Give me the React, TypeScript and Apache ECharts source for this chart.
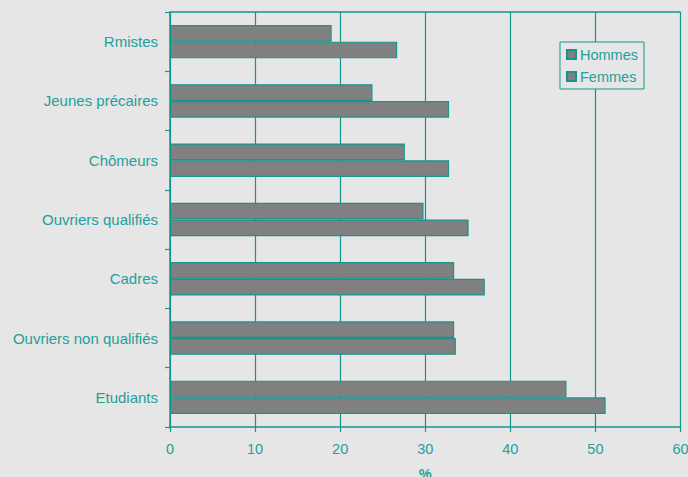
import React, { useEffect, useRef } from "react";
import * as echarts from "echarts";

// Categories listed from top to bottom
const categories = [
  "Rmistes",
  "Jeunes précaires",
  "Chômeurs",
  "Ouvriers qualifiés",
  "Cadres",
  "Ouvriers non qualifiés",
  "Etudiants",
];

const hommes = [19.0, 23.8, 27.6, 29.8, 33.4, 33.4, 46.6];
const femmes = [26.7, 32.8, 32.8, 35.1, 37.0, 33.6, 51.2];

const xTicks = [0, 10, 20, 30, 40, 50, 60];
const xName = "%";

const TEAL = "#16958f";
const TEXT = "#24a09a";
const BAR = "#808080";
const BG = "#e6e6e6";
const FONT = "'Liberation Sans', Arial, sans-serif";

export default function App() {
  const ref = useRef<HTMLDivElement>(null);

  useEffect(() => {
    document.body.style.margin = "0";
    document.body.style.background = BG;
    const chart = echarts.init(ref.current!, null, { renderer: "svg" });
    const barStyle = { color: BAR, borderColor: TEAL, borderWidth: 1.2 };
    chart.setOption({
      animation: false,
      backgroundColor: BG,
      textStyle: { fontFamily: FONT },
      grid: {
        left: 170,
        right: 7.5,
        top: 12,
        bottom: 50,
        containLabel: false,
        outerBoundsMode: "none",
      },
      legend: {
        orient: "vertical",
        left: 560,
        top: 42,
        width: 83,
        height: 43,
        padding: [5, 6, 5, 6],
        itemGap: 7,
        itemWidth: 9,
        itemHeight: 9,
        icon: "rect",
        borderColor: TEAL,
        borderWidth: 1,
        backgroundColor: BG,
        textStyle: { color: TEXT, fontSize: 14.5, fontFamily: FONT, padding: [0, 0, 0, -1] },
        data: ["Hommes", "Femmes"],
      },
      xAxis: {
        type: "value",
        min: xTicks[0],
        max: xTicks[xTicks.length - 1],
        interval: 10,
        name: xName,
        nameLocation: "middle",
        nameGap: 39,
        nameTextStyle: { color: TEXT, fontSize: 14.5, fontWeight: "bold", fontFamily: FONT },
        axisLine: { show: true, lineStyle: { color: TEAL, width: 1.5 } },
        axisTick: { show: true, length: 5, lineStyle: { color: TEAL, width: 1.2 } },
        axisLabel: { color: TEXT, fontSize: 14.5, margin: 14, fontFamily: FONT },
        splitLine: { show: true, lineStyle: { color: TEAL, width: 1.2 } },
      },
      yAxis: {
        type: "category",
        inverse: true,
        data: categories,
        axisLine: { show: true, lineStyle: { color: TEAL, width: 1.5 } },
        axisTick: { show: true, length: 5, lineStyle: { color: TEAL, width: 1.2 } },
        axisLabel: { color: TEXT, fontSize: 15, margin: 12, fontFamily: FONT },
        splitLine: { show: false },
      },
      series: [
        {
          name: "Hommes",
          type: "bar",
          data: hommes,
          barWidth: 16.7,
          barGap: "0%",
          itemStyle: barStyle,
        },
        {
          name: "Femmes",
          type: "bar",
          data: femmes,
          barWidth: 16.7,
          barGap: "0%",
          itemStyle: barStyle,
        },
      ],
      graphic: [
        {
          type: "line",
          shape: { x1: 170, y1: 12, x2: 680.5, y2: 12 },
          style: { stroke: TEAL, lineWidth: 1.5 },
          z: 10,
        },
      ],
    });
    return () => chart.dispose();
  }, []);

  return (
    <div
      ref={ref}
      style={{ position: "absolute", left: 0, top: 0, width: 688, height: 477, background: BG }}
    />
  );
}
